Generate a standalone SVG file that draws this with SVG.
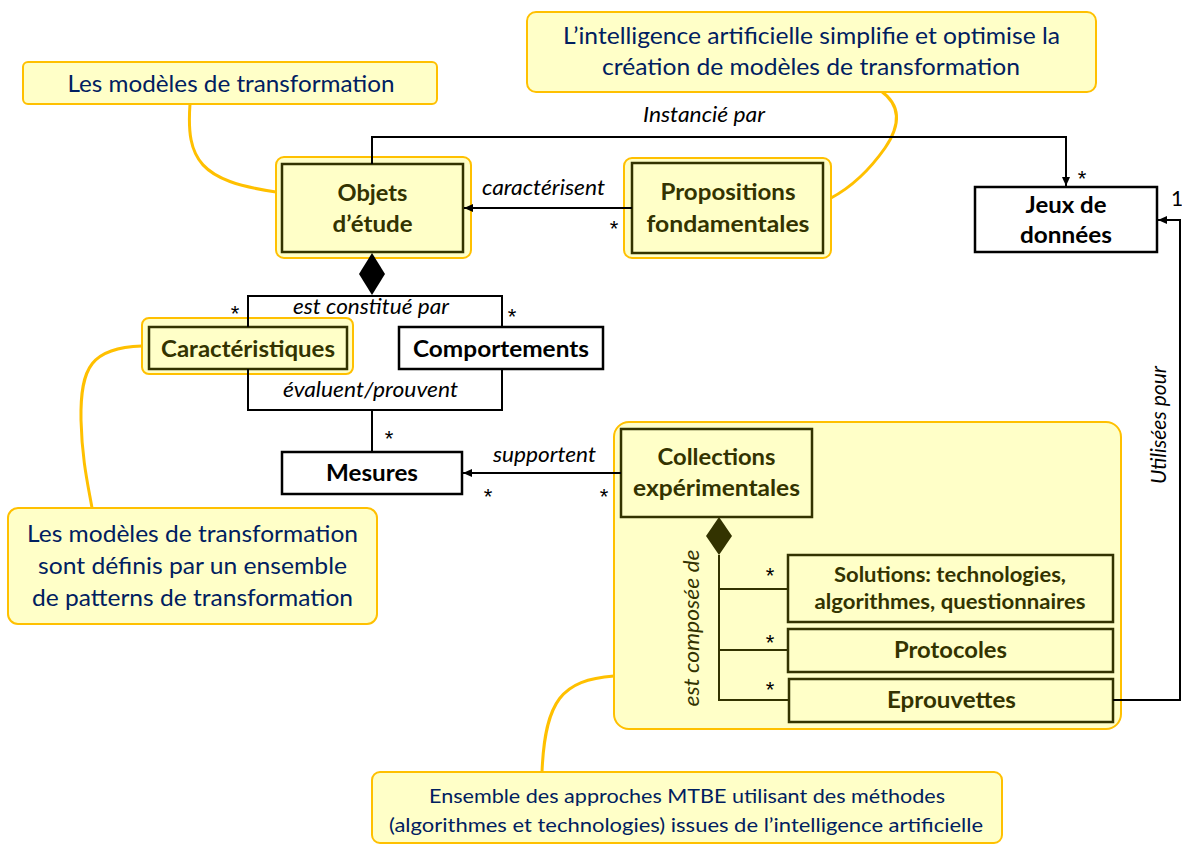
<svg xmlns="http://www.w3.org/2000/svg" width="1182" height="844" viewBox="0 0 1182 844">
<defs>
<marker id="arr" markerUnits="userSpaceOnUse" markerWidth="10" markerHeight="8" refX="9" refY="4" orient="auto">
<path d="M0,0 L9,4 L0,8 z" fill="#000"/>
</marker>
<style>
.callout{fill:#FFFFC8;stroke:#FFC000;stroke-width:2}
.ctext{font-family:Lato,"Liberation Sans",sans-serif;font-size:23px;fill:#002060;text-anchor:middle}
.hl{fill:#FFFFC8;stroke:#FFC000;stroke-width:2}
.ynode{fill:#FFFFC8;stroke:#333300;stroke-width:2.5}
.wnode{fill:#fff;stroke:#000;stroke-width:2.5}
.yt{font-family:Lato,"Liberation Sans",sans-serif;font-weight:bold;font-size:23px;fill:#333300;text-anchor:middle}
.wt{font-family:Lato,"Liberation Sans",sans-serif;font-weight:bold;font-size:23px;fill:#000;text-anchor:middle}
.lbl{font-family:Lato,"Liberation Sans",sans-serif;font-style:italic;font-size:21px;fill:#000;text-anchor:middle}
.olbl{font-family:Lato,"Liberation Sans",sans-serif;font-style:italic;font-size:21px;fill:#333300;text-anchor:middle}
.star{font-family:"Liberation Sans",sans-serif;font-size:22px;fill:#000;text-anchor:middle}
.one{font-family:Lato,"Liberation Sans",sans-serif;font-size:21px;fill:#000;text-anchor:middle}
.conn{fill:none;stroke:#000;stroke-width:2}
.oconn{fill:none;stroke:#333300;stroke-width:2}
.gold{fill:none;stroke:#FFC000;stroke-width:3}
</style>
</defs>
<rect width="1182" height="844" fill="#fff"/>

<!-- callout links -->
<g id="callout-links">
<path class="gold" d="M190 104 C186 160 200 181 276 192"/>
<path class="gold" d="M881 91 C902 106 900 126 885 148 C866 175 846 190 831 198"/>
<path class="gold" d="M142 346 C92 348 80 366 81 420 C82 460 88 485 92 508"/>
<path class="gold" d="M614 676 C562 680 545 700 542 772"/>
</g>

<!-- callouts -->
<g id="callout-top-left">
<rect class="callout" x="23" y="62" width="414" height="42" rx="5"/>
<text class="ctext" x="231" y="92" textLength="327" lengthAdjust="spacingAndGlyphs">Les modèles de transformation</text>
</g>
<g id="callout-top">
<rect class="callout" x="527" y="12" width="569" height="80" rx="9"/>
<text class="ctext" x="811.5" y="44" textLength="497" lengthAdjust="spacingAndGlyphs">L’intelligence artificielle simplifie et optimise la</text>
<text class="ctext" x="811" y="75" textLength="418" lengthAdjust="spacingAndGlyphs">création de modèles de transformation</text>
</g>
<g id="callout-left">
<rect class="callout" x="8" y="508" width="369" height="116" rx="10"/>
<text class="ctext" x="192.5" y="542" textLength="331" lengthAdjust="spacingAndGlyphs">Les modèles de transformation</text>
<text class="ctext" x="192.5" y="574" textLength="309" lengthAdjust="spacingAndGlyphs">sont définis par un ensemble</text>
<text class="ctext" x="192.5" y="606" textLength="321" lengthAdjust="spacingAndGlyphs">de patterns de transformation</text>
</g>
<g id="callout-bottom">
<rect class="callout" x="372" y="772" width="630" height="71" rx="8"/>
<text class="ctext" style="font-size:20px" x="687" y="803" textLength="516" lengthAdjust="spacingAndGlyphs">Ensemble des approches MTBE utilisant des méthodes</text>
<text class="ctext" style="font-size:20px" x="686" y="832" textLength="594" lengthAdjust="spacingAndGlyphs">(algorithmes et technologies) issues de l’intelligence artificielle</text>
</g>

<!-- container for experimental collections -->
<g id="collections-group">
<rect class="callout" x="614" y="422" width="507" height="307" rx="15"/>
</g>

<!-- nodes -->
<g id="objets">
<rect class="hl" x="276" y="157" width="195" height="101" rx="8"/>
<rect class="ynode" x="282" y="164" width="181" height="88"/>
<text class="yt" x="372.5" y="201" textLength="70" lengthAdjust="spacingAndGlyphs">Objets</text>
<text class="yt" x="372.5" y="232" textLength="80" lengthAdjust="spacingAndGlyphs">d’étude</text>
</g>
<g id="propositions">
<rect class="hl" x="624" y="158" width="207" height="100" rx="8"/>
<rect class="ynode" x="632" y="163" width="191" height="90"/>
<text class="yt" x="728" y="200" textLength="135" lengthAdjust="spacingAndGlyphs">Propositions</text>
<text class="yt" x="728" y="232" textLength="163" lengthAdjust="spacingAndGlyphs">fondamentales</text>
</g>
<g id="jeux">
<rect class="wnode" x="975" y="187" width="182" height="65"/>
<text class="wt" x="1066" y="213" textLength="81" lengthAdjust="spacingAndGlyphs">Jeux de</text>
<text class="wt" x="1066" y="243" textLength="92" lengthAdjust="spacingAndGlyphs">données</text>
</g>
<g id="caracteristiques">
<rect class="hl" x="142" y="318" width="211" height="56" rx="7"/>
<rect class="ynode" x="149" y="327" width="198" height="42"/>
<text class="yt" x="248" y="357" textLength="174" lengthAdjust="spacingAndGlyphs">Caractéristiques</text>
</g>
<g id="comportements">
<rect class="wnode" x="399" y="327" width="204" height="42"/>
<text class="wt" x="501" y="357" textLength="176" lengthAdjust="spacingAndGlyphs">Comportements</text>
</g>
<g id="mesures">
<rect class="wnode" x="282" y="452" width="180" height="42"/>
<text class="wt" x="372" y="481" textLength="92" lengthAdjust="spacingAndGlyphs">Mesures</text>
</g>
<g id="collections">
<rect class="ynode" x="621" y="429" width="191" height="88"/>
<text class="yt" x="716.5" y="465" textLength="118" lengthAdjust="spacingAndGlyphs">Collections</text>
<text class="yt" x="716.5" y="496" textLength="167" lengthAdjust="spacingAndGlyphs">expérimentales</text>
</g>
<g id="solutions">
<rect class="ynode" x="788" y="555" width="325" height="67"/>
<text class="yt" style="font-size:21px" x="950" y="582" textLength="232" lengthAdjust="spacingAndGlyphs">Solutions: technologies,</text>
<text class="yt" style="font-size:21px" x="950" y="609" textLength="271" lengthAdjust="spacingAndGlyphs">algorithmes, questionnaires</text>
</g>
<g id="protocoles">
<rect class="ynode" x="788" y="629" width="325" height="43"/>
<text class="yt" x="950.5" y="658" textLength="113" lengthAdjust="spacingAndGlyphs">Protocoles</text>
</g>
<g id="eprouvettes">
<rect class="ynode" x="789" y="679" width="324" height="43"/>
<text class="yt" x="951.5" y="708" textLength="129" lengthAdjust="spacingAndGlyphs">Eprouvettes</text>
</g>

<!-- connectors -->
<g id="connectors">
<!-- Instancié par -->
<path class="conn" d="M372 164 V137 H1066 V186" marker-end="url(#arr)"/>
<text class="lbl" x="704" y="122" textLength="122" lengthAdjust="spacingAndGlyphs">Instancié par</text>
<text class="star" x="1082" y="186">*</text>
<!-- caractérisent -->
<path class="conn" d="M632 208 H464" marker-end="url(#arr)"/>
<text class="lbl" x="543.5" y="195" textLength="123" lengthAdjust="spacingAndGlyphs">caractérisent</text>
<text class="star" x="614" y="236">*</text>
<!-- composition objets -->
<polygon points="372,253 385,274 372,295 359,274" fill="#000"/>
<path class="conn" d="M372 295 V296 M248 327 V296 H502 V327"/>
<text class="lbl" x="371" y="314" textLength="156" lengthAdjust="spacingAndGlyphs">est constitué par</text>
<text class="star" x="235" y="321">*</text>
<text class="star" x="512" y="324">*</text>
<!-- évaluent/prouvent -->
<path class="conn" d="M248 369 V410 H502 V369 M372 410 V452"/>
<text class="lbl" x="370.5" y="397" textLength="175" lengthAdjust="spacingAndGlyphs">évaluent/prouvent</text>
<text class="star" x="389" y="446">*</text>
<!-- supportent -->
<path class="conn" d="M621 473 H463" marker-end="url(#arr)"/>
<text class="lbl" x="544.5" y="462" textLength="103" lengthAdjust="spacingAndGlyphs">supportent</text>
<text class="star" x="488" y="504">*</text>
<text class="star" x="604" y="504">*</text>
<!-- composition collections -->
<polygon points="719,517 732,536 719,555 706,536" fill="#333300"/>
<path class="oconn" d="M719 555 V700 H789 M719 589 H788 M719 650 H788"/>
<text class="olbl" transform="translate(699,628) rotate(-90)" x="0" y="0" textLength="157" lengthAdjust="spacingAndGlyphs">est composée de</text>
<text class="star" x="770" y="583">*</text>
<text class="star" x="770" y="650">*</text>
<text class="star" x="770" y="697">*</text>
<!-- Utilisées pour -->
<path class="conn" d="M1113 700 H1180 V220 H1158" marker-end="url(#arr)"/>
<text class="lbl" transform="translate(1166,425) rotate(-90)" x="0" y="0" textLength="118" lengthAdjust="spacingAndGlyphs">Utilisées pour</text>
<text class="one" x="1177" y="206">1</text>
</g>
</svg>
